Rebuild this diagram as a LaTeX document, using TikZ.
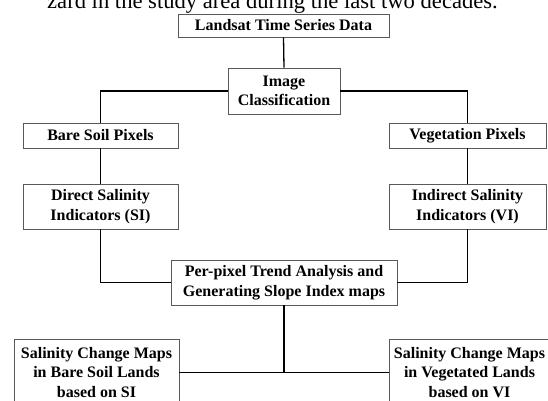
\documentclass[tikz,border=0pt]{standalone}
\usepackage{fontspec}
\setmainfont{Liberation Serif}
\begin{document}
\begin{tikzpicture}[x=1pt,y=-1pt,
  box/.style={draw=black!65,line width=0.9pt,fill=white,inner sep=0pt,align=center,
    font=\bfseries\fontsize{16}{19.5}\selectfont},
  conn/.style={draw=black,line width=1.3pt}]
\clip (0,0) rectangle (548,400);
\fill[white] (0,0) rectangle (548,400);
\node[anchor=base west,inner sep=0pt,font=\fontsize{22.6}{26}\selectfont] (top) at (47,8) {zard in the study area during the last two decades.};
\node[box,minimum width=211pt,minimum height=23pt] (land) at (283.5,25.5) {Landsat Time Series Data};
\node[box,minimum width=112pt,minimum height=46pt] (img) at (284,91) {Image\\Classification};
\node[box,minimum width=155pt,minimum height=25pt] (bare) at (100.5,135.5) {Bare Soil Pixels};
\node[box,minimum width=157pt,minimum height=25pt] (veg) at (467.5,135.5) {Vegetation Pixels};
\node[box,minimum width=155pt,minimum height=45pt] (dir) at (100.5,206.5) {Direct Salinity\\Indicators (SI)};
\node[box,minimum width=157pt,minimum height=45pt] (ind) at (467.5,206.5) {Indirect Salinity\\Indicators (VI)};
\node[box,minimum width=226pt,minimum height=45pt] (pp) at (284,282.5) {Per-pixel Trend Analysis and\\Generating Slope Index maps};
\node[box,minimum width=165pt,minimum height=66pt] (bl) at (96.5,372.5) {Salinity Change Maps\\in Bare Soil Lands\\based on SI};
\node[box,minimum width=161pt,minimum height=66pt] (br) at (469.5,372.5) {Salinity Change Maps\\in Vegetated Lands\\based on VI};
\coordinate (junc) at (pp.south |- bl.east);
\draw[conn] (land.south) -- (img.north);
\draw[conn] (img.west) -| (bare.north);
\draw[conn] (img.east) -| (veg.north);
\draw[conn] (bare.south) -- (dir.north);
\draw[conn] (veg.south) -- (ind.north);
\draw[conn] (dir.south) |- (pp.west);
\draw[conn] (ind.south) |- (pp.east);
\draw[conn] (pp.south) -- (junc);
\draw[conn] (bl.east) -- (br.west);
\end{tikzpicture}
\end{document}
